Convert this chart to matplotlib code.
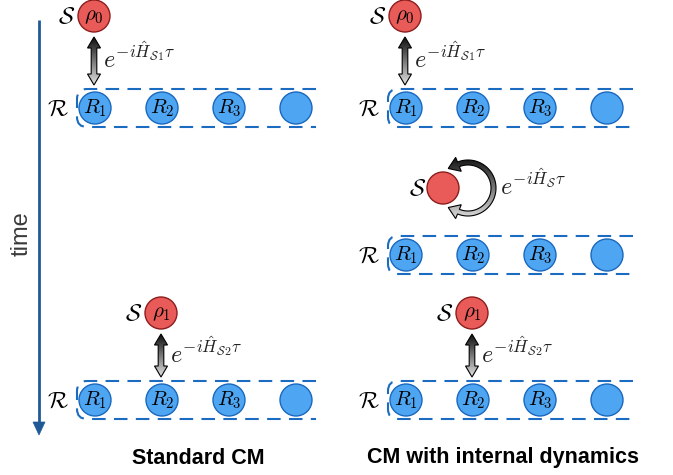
import numpy as np
import matplotlib.pyplot as plt
from matplotlib.patches import Circle, Polygon, PathPatch
from matplotlib.path import Path
from matplotlib.colors import LinearSegmentedColormap

plt.rcParams['mathtext.fontset'] = 'cm'

# Labels / content
panel_titles = ['Standard CM', 'CM with internal dynamics']
system_states = [r'$\rho_0$', r'$\rho_1$']
ancilla_labels = [r'$R_1$', r'$R_2$', r'$R_3$', '']
coupling_labels = [r'$e^{-i\hat{H}_{\mathcal{S}1}\tau}$',
                   r'$e^{-i\hat{H}_{\mathcal{S}2}\tau}$']
coupled_ancilla = [0, 1]
free_label = r'$e^{-i\hat{H}_{\mathcal{S}}\tau}$'
time_label = 'time'

# Colours
red_fill, red_edge = '#e95b58', '#8c1d1d'
blue_fill, blue_edge = '#4ea6f3', '#1a68bd'
dash_col = '#1b6cc0'
time_col = '#1f5a97'
grad_cmap = LinearSegmentedColormap.from_list('g', ['#0e0e0e', '#e2e2e2'])

W, H = 673, 475
fig = plt.figure(figsize=(W / 100, H / 100), dpi=100)
ax = fig.add_axes([0, 0, 1, 1])
ax.set_xlim(0, W)
ax.set_ylim(H, 0)
ax.axis('off')

panel_dx = [0, 311]
box_right = [316, 633]
title_x = [198, 503]
ancilla_x0, ancilla_dx = 95, 67
rad = 16
lab_fs = 17      # script S / R labels
in_fs = 15       # labels inside circles
exp_fs = 17.5    # exponential labels


def gradient_fill(patch, x0, x1, y0, y1):
    ax.add_patch(patch)
    grad = np.linspace(0, 1, 256)[:, None]
    im = ax.imshow(grad, extent=(x0, x1, y1, y0), cmap=grad_cmap, aspect='auto',
                   origin='upper', interpolation='bicubic', zorder=patch.get_zorder() - 0.1)
    im.set_clip_path(patch)


def block_arrow(x, y0, y1):
    hw, hh, hl = 2.8, 6.5, 11
    pts = [(x, y0), (x + hh, y0 + hl), (x + hw, y0 + hl), (x + hw, y1 - hl),
           (x + hh, y1 - hl), (x, y1), (x - hh, y1 - hl), (x - hw, y1 - hl),
           (x - hw, y0 + hl), (x - hh, y0 + hl)]
    p = Polygon(pts, closed=True, facecolor='none', edgecolor='black', lw=0.8, zorder=3)
    gradient_fill(p, x - hh - 1, x + hh + 1, y0, y1)


def curved_arrow(cx, cy):
    r_in, r_out = 23, 28
    r_mid = (r_in + r_out) / 2
    ta, tb = np.radians(112), np.radians(-112)
    th = np.linspace(ta, tb, 80)
    pt = lambda r, t: (cx + r * np.cos(t), cy - r * np.sin(t))
    pts = [pt(r_in, t) for t in th]
    # bottom head, pointing along clockwise direction
    tdir = np.array([np.sin(tb), np.cos(tb)])
    tip = np.array(pt(r_mid, tb)) + 11 * tdir
    pts += [pt(r_mid - 7.5, tb), tuple(tip), pt(r_mid + 7.5, tb)]
    pts += [pt(r_out, t) for t in th[::-1]]
    tdir = np.array([-np.sin(ta), -np.cos(ta)])
    tip = np.array(pt(r_mid, ta)) + 11 * tdir
    pts += [pt(r_mid + 7.5, ta), tuple(tip), pt(r_mid - 7.5, ta)]
    p = Polygon(pts, closed=True, facecolor='none', edgecolor='black', lw=0.8, zorder=3)
    gradient_fill(p, cx - r_out - 15, cx + r_out + 2, cy - r_out - 4, cy + r_out + 4)


def reservoir_row(dx, y, right):
    x0, top, bot, r = 77 + dx, y - 19, y + 19, 10
    verts = [(right, top), (x0 + r, top), (x0, top), (x0, top + r), (x0, bot - r),
             (x0, bot), (x0 + r, bot), (right, bot)]
    codes = [Path.MOVETO, Path.LINETO, Path.CURVE3, Path.CURVE3, Path.LINETO,
             Path.CURVE3, Path.CURVE3, Path.LINETO]
    ax.add_patch(PathPatch(Path(verts, codes), facecolor='none', edgecolor=dash_col,
                           lw=1.5, linestyle=(0, (6.5, 4)), zorder=1))
    for i, lab in enumerate(ancilla_labels):
        cx = ancilla_x0 + dx + i * ancilla_dx
        ax.add_patch(Circle((cx, y), rad, facecolor=blue_fill, edgecolor=blue_edge, lw=1.0, zorder=2))
        if lab:
            ax.text(cx, y, lab, ha='center', va='center', fontsize=in_fs, zorder=4)
    ax.text(ancilla_x0 + dx - 37, y, r'$\mathcal{R}$', ha='center', va='center', fontsize=lab_fs)


def system(cx, cy, lab):
    ax.add_patch(Circle((cx, cy), rad, facecolor=red_fill, edgecolor=red_edge, lw=1.0, zorder=2))
    if lab:
        ax.text(cx, cy, lab, ha='center', va='center', fontsize=in_fs, zorder=4)


def collision(dx, sys_y, row_y, k):
    ax_i = coupled_ancilla[k]
    cx = ancilla_x0 + dx + ax_i * ancilla_dx - 1
    system(cx, sys_y, system_states[k])
    ax.text(cx - 27, sys_y, r'$\mathcal{S}$', ha='center', va='center', fontsize=lab_fs)
    block_arrow(cx, sys_y + 21, row_y - 23)
    ax.text(cx + 9, (sys_y + row_y) / 2 - 4, coupling_labels[k], ha='left', va='center',
            fontsize=exp_fs, color='#222222')


for p in range(2):
    dx = panel_dx[p]
    collision(dx, 16, 108, 0)
    reservoir_row(dx, 108, box_right[p])
    collision(dx, 313, 400, 1)
    reservoir_row(dx, 400, box_right[p])
    ax.text(title_x[p], 458, panel_titles[p], ha='center', va='center',
            fontsize=15.5, fontweight='bold', family='Liberation Sans')

# internal dynamics step (right panel only)
system(443, 188, '')
ax.text(418, 188, r'$\mathcal{S}$', ha='center', va='center', fontsize=lab_fs)
curved_arrow(468, 188)
ax.text(500, 185, free_label, ha='left', va='center', fontsize=exp_fs, color='#222222')
reservoir_row(panel_dx[1], 255, box_right[1])

# time axis
ax.plot([39, 39], [20, 424], color=time_col, lw=2.0, solid_capstyle='butt')
ax.add_patch(Polygon([(33, 422), (45, 422), (39, 435)], closed=True, facecolor=time_col,
                     edgecolor=time_col, lw=0.5))
ax.text(22, 234, time_label, rotation=90, ha='center', va='center', fontsize=17,
        color='#3a3a3a', family='Liberation Sans')

ax.set_xlim(0, W)
ax.set_ylim(H, 0)
fig.savefig('out.png', dpi=100)
